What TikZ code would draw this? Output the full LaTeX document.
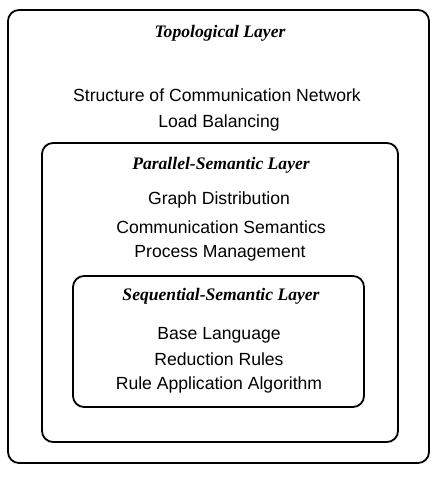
\documentclass[tikz,border=0pt]{standalone}
\usepackage{fontspec}
\setmainfont{Liberation Sans}
\newfontfamily\titlefont{Liberation Serif}
\begin{document}
\begin{tikzpicture}[x=1pt,y=-1pt,
  layerbox/.style={draw=black, line width=1.8pt, rounded corners=11pt},
  titletext/.style={font=\titlefont\bfseries\itshape\fontsize{17.6}{20}\selectfont, inner sep=0pt},
  itemtext/.style={font=\fontsize{17.6}{20}\selectfont, inner sep=0pt}]
\useasboundingbox (0,0) rectangle (438,478);
\draw[layerbox] (8,10) rectangle (429,463);
\draw[layerbox] (42,143) rectangle (398,442);
\draw[layerbox] (73,276) rectangle (364,407);
\node[titletext] (t1) at (220,33) {Topological Layer};
\node[itemtext] (a1) at (217,95) {Structure of Communication Network};
\node[itemtext] (a2) at (219,123) {Load Balancing};
\node[titletext] (t2) at (221,165) {Parallel-Semantic Layer};
\node[itemtext] (b1) at (219,200) {Graph Distribution};
\node[itemtext] (b2) at (221,227) {Communication Semantics};
\node[itemtext] (b3) at (220,253) {Process Management};
\node[titletext] (t3) at (221,296) {Sequential-Semantic Layer};
\node[itemtext] (c1) at (219,335) {Base Language};
\node[itemtext] (c2) at (219,359) {Reduction Rules};
\node[itemtext] (c3) at (219,385) {Rule Application Algorithm};
\end{tikzpicture}
\end{document}
